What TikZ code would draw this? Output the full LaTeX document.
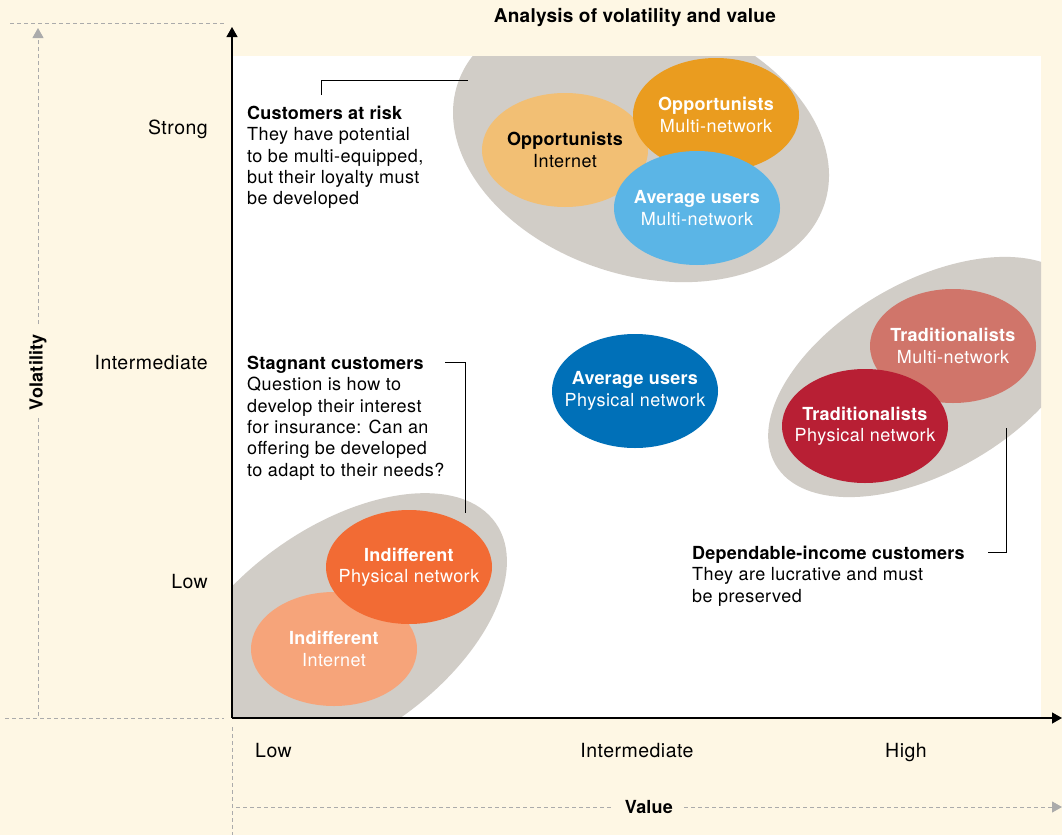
\documentclass[tikz,border=0pt]{standalone}
\usepackage{fontspec}
\setmainfont{TeX Gyre Heros}[LetterSpace=2.5, BoldFeatures={LetterSpace=1.2}]
\usetikzlibrary{shapes.geometric, arrows.meta, positioning, calc}
\definecolor{cream}{HTML}{FEF7E4}
\definecolor{groupgray}{HTML}{D1CDC7}
\definecolor{guidegray}{HTML}{ABABAB}
\definecolor{oppnet}{HTML}{F2BF74}
\definecolor{oppmulti}{HTML}{EA9C1F}
\definecolor{avgmulti}{HTML}{5BB5E6}
\definecolor{avgphys}{HTML}{0070B8}
\definecolor{tradmulti}{HTML}{D0756A}
\definecolor{tradphys}{HTML}{B81F34}
\definecolor{indphys}{HTML}{F26B34}
\definecolor{indnet}{HTML}{F6A47A}
\begin{document}
\begin{tikzpicture}[
    x=1pt, y=-1pt,
    every node/.style={font=\fontsize{18}{21.3}\selectfont},
    seg/.style={ellipse, minimum width=166pt, minimum height=114pt, inner xsep=-30pt, inner ysep=0pt, align=center, text=white},
    group/.style={ellipse, fill=groupgray, inner sep=0pt},
    note/.style={anchor=north west, align=left, inner sep=0pt},
    tick/.style={inner sep=0pt, font=\fontsize{19.5}{22}\selectfont},
    callout/.style={draw=black, line width=0.8pt},
    axis/.style={-{Triangle[length=10pt, width=11pt]}, line width=1.2pt},
    guide/.style={draw=guidegray, dash pattern=on 4pt off 3pt, line width=1pt}
]
    \useasboundingbox (0,0) rectangle (1062,835);
    \fill[cream] (0,0) rectangle (1062,835);
    \fill[white] (232,56) rectangle (1041,718);

    \begin{scope}
        \clip (232,56) rectangle (1041,718);
        \node[group, rotate=-18, minimum width=386pt, minimum height=262pt] (grpRisk) at (641,144) {};
        \node[group, rotate=35, minimum width=380pt, minimum height=210pt] (grpStag) at (340,632) {};
        \node[group, rotate=30, minimum width=350pt, minimum height=190pt] (grpDep) at (927,377) {};
    \end{scope}

    \node[seg, fill=oppnet, text=black] (oppNet) at (565,150) {\textbf{Opportunists}\\Internet};
    \node[seg, fill=oppmulti] (oppMulti) at (716,115) {\textbf{Opportunists}\\Multi-network};
    \node[seg, fill=avgmulti] (avgMulti) at (697,208) {\textbf{Average users}\\Multi-network};
    \node[seg, fill=avgphys] (avgPhys) at (635,391) {\textbf{Average users}\\Physical network};
    \node[seg, fill=tradmulti] (tradMulti) at (953,346) {\textbf{Traditionalists}\\Multi-network};
    \node[seg, fill=tradphys] (tradPhys) at (865,426) {\textbf{Traditionalists}\\Physical network};
    \node[seg, fill=indnet] (indNet) at (334,649) {\textbf{Indifferent}\\Internet};
    \node[seg, fill=indphys] (indPhys) at (409,567) {\textbf{Indifferent}\\Physical network};

    \coordinate (origin) at (232,718);
    \coordinate (ytop) at (232,27);
    \coordinate (xend) at (1062,718);
    \draw[axis] (origin) -- (ytop);
    \draw[axis] (origin) -- (xend);

    \draw[guide] (10,23) -- (225,23);
    \draw[guide] (5,718) -- (224,718);
    \draw[guide] (232,727) -- (232,835);
    \draw[guide, -{Triangle[length=10pt, width=11pt]}] (38,716) -- node[pos=0.5, rotate=90, fill=cream, inner sep=8pt] (volat) {\textbf{Volatility}} (38,28);
    \draw[guide, -{Triangle[length=10pt, width=11pt]}] (236,807) -- node[pos=0.5, fill=cream, inner xsep=11pt] (value) {\textbf{Value}} (1062,807);

    \node[font=\fontsize{19}{22}\selectfont] (title) at (635,18) {\textbf{Analysis of volatility and value}};

    \node[tick, anchor=base east] (ystrong) at (208,134) {Strong};
    \node[tick, anchor=base east] (ymid) at (208,369) {Intermediate};
    \node[tick, anchor=base east] (ylow) at (208,588) {Low};
    \node[tick, anchor=base west] (xlow) at (255,757) {Low};
    \node[tick, anchor=base] (xmid) at (637,757) {Intermediate};
    \node[tick, anchor=base] (xhigh) at (906,757) {High};

    \node[note] (risk) at (247,106) {\textbf{Customers at risk}\\They have potential\\to be multi-equipped,\\but their loyalty must\\be developed};
    \node[note] (stag) at (247,356) {\textbf{Stagnant customers}\\Question is how to\\develop their interest\\for insurance: Can an\\offering be developed\\to adapt to their needs?};
    \node[note] (dep) at (692,546) {\textbf{Dependable-income customers}\\They are lucrative and must\\be preserved};

    \coordinate (riskA) at (321,95);
    \coordinate (riskB) at (468,80);
    \coordinate (stagA) at (445,362);
    \coordinate (stagB) at (465,513);
    \coordinate (depA) at (988,552);
    \coordinate (depB) at (1006,428);
    \draw[callout] (riskA) |- (riskB);
    \draw[callout] (stagA) -| (stagB);
    \draw[callout] (depA) -| (depB);
\end{tikzpicture}
\end{document}
